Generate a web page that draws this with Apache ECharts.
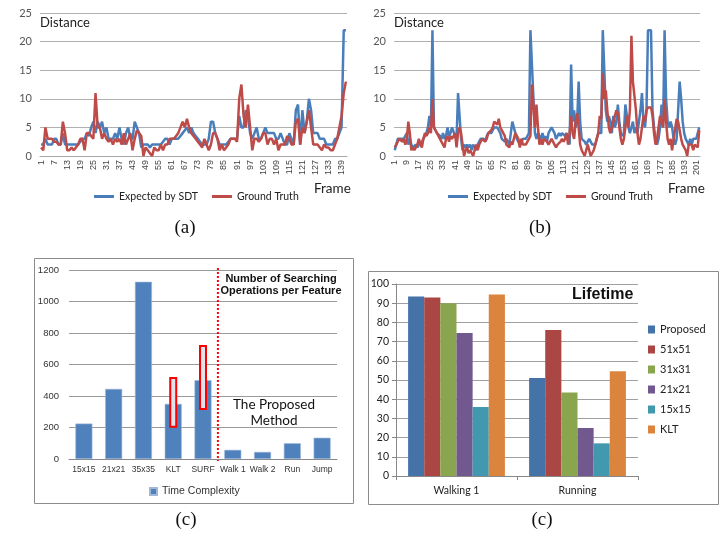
<!DOCTYPE html>
<html><head><meta charset="utf-8">
<script src="https://cdn.jsdelivr.net/npm/echarts@6/dist/echarts.min.js"></script>
<style>html,body{margin:0;padding:0;background:#fff}#c{width:724px;height:537px}</style>
</head><body><div id="c"></div>
<script>
// ---- Panel (a): distance per frame ----
const sdtA = [
 2,2,3,2,2,2, 3,3,2,2,4,2, 2,2,2,2,2,2, 2.5,3,3,4,3.5,5, 6,4,6,5,6,4,
 5,3,3,3,4,3, 5,3,2,4,5,3, 3,6,5,4,1.5,2, 2,2,1.5,2,2,2, 2,2,2.5,3,3,2,
 3,3,3,3,3.5,4, 4.5,5,4,5,4,3.5, 3,2.5,2,2,2,3, 6,6,4,3,2,2, 2,2,2.5,3,3,3,
 3,7,5,5,8,7, 4,3,4,5,3,3, 4,5,4,4,4,4, 3,3,4,3,2,2, 4,3,2,8,9,2,
 8,4,6,10,8,4, 4,4,3,3,3,2, 2,2,2,3,3,4, 5,22,22
];
const gtA = [
 1.5,1,5,3,3,3, 2.5,2.5,2,2,6,4, 1,1,1.5,1,1.5,2, 3,3,1,4,4,3.5, 3,11,5,5,3,4,
 3,2.5,3,2,3,2.5, 3,2,4,2,3,4, 1,3,4.5,4,3.5,0, 1.5,1,0.5,0,1.5,1, 1,2,1,2,2,3,
 3,3,3.5,4,5,6, 5,6.5,5,4,3.5,3, 2.5,2,1.5,3,2,1, 2,4,4,3,1,2, 1,1.5,2,3,3,3,
 2.5,10,12.5,7,5,9, 5,1,3,3,2.5,3, 4,4,2,3,3,2, 3,1,2,2,2,3.5, 3,2,2,6,6.5,2,
 5,4,6,8,5,2, 2,2,1.5,1,2,1.5, 1.5,1,1,2,3,5, 7,11,13
];
// ---- Panel (b) ----
const sdtB = [
 1,2,3,3,3,3,3,3, 4,2,3,2,1.5,1.5,2,1.5, 2,2,2.5,3,3,4,5,7, 5,22,5,4.5,4,4,3.5,3,
 4,3,3.5,5,3.5,4,5,5, 3.5,3,11,7,3,1,2,1.5, 2,1.5,2,1,2,1.5,1,2, 2.5,3,3,3,2.5,3.5,4,4,
 4,4.5,5,5,5,4.5,4,3, 3,2.5,3,2.5,2,2,6,6, 4,3,3,2,2,3,3,3, 3.5,4,22,22,10,4,3,4,
 4,3,4,3,3.5,2.5,4,4, 5,5,4,3,3.5,4,3.5,4, 4,3.5,4,3,2,16,6,8, 5,6,13,6,3,3,2.5,2,
 2.5,3,3,2,2,2,3,4, 4,4,22,22,8,6,7,6, 4,7,5,6,9,6,4,3.5, 4,9,7,5,4,5,6,4,
 5,4,6,8,11,6,5,8, 22,22,22,8,5,3,2,3, 5,9,5,22,10,6,5,6, 5,3,2,3,8,13,10,6,
 4,3,3,2,3,2,3,3, 3,3,5
];
const gtB = [
 1.5,2,2.5,3,3,2.5,3,2, 3,6,4,1,1.5,1,1.5,2, 3,2,1.5,3,4,3.5,4,5, 4,10,5,4.5,4,4,3,3,
 2,1.5,3,3.5,2.5,3.5,3,3.5, 4,1.5,4,5,4,2,0,1, 1.5,0.5,1,1,0,1,2,1, 2,2.5,3,3,2.5,3,4,4,
 4.5,5,6,6,5.5,6.5,5,5, 4,3.5,2,2,1.5,2.5,2,3, 4,4,3,1.5,3,2,2,2, 2.5,3,3.5,12.5,9,5,9,5,
 2,3,2,3,3,2.5,2,2, 3,2.5,2,1.5,2,2,2.5,3, 2.5,3,4,2,4,7,4,3, 6,7.5,5,2,1,1,0,1,
 2,1,0,0,1,2,3,4, 7,6.5,14.5,10,11.5,8,5,4, 5,6,7,8,7.5,5,3,2, 3,5,7,5,8,21,13,13,
 8,4,2,3,5,7,6,8, 8.5,8.5,8.5,7,4,2,3,5, 7,6,5,10,6,3,2,3, 1,3,3,6.5,6,6,3,2,
 2,1,0,2,2,2,1,2, 2,1.5,4.5
];
// ---- Panel (c) left: time complexity ----
const tcCats = ['15x15','21x21','35x35','KLT','SURF','Walk 1','Walk 2','Run','Jump'];
const tcVals = [225, 445, 1125, 350, 500, 58, 45, 100, 135];
const rangeCats = ['KLT','SURF'];
const rangeLow = [205, 317];
const rangeHigh = [515, 717];
const dividerBetween = ['SURF','Walk 1'];
// ---- Panel (c) right: lifetime ----
const ltCats = ['Walking 1','Running'];
const ltNames = ['Proposed','51x51','31x31','21x21','15x15','KLT'];
const ltProposed = [93.5, 51];
const lt51 = [93, 76];
const lt31 = [90, 43.5];
const lt21 = [74.5, 25];
const lt15 = [36, 17];
const ltKLT = [94.5, 54.5];
const ltColors = ['#4572a7','#aa4643','#89a54e','#71588f','#4198af','#db843d'];

const framesA = sdtA.map((_, i) => String(i + 1));
const framesB = sdtB.map((_, i) => String(i + 1));

const BLUE = '#4a7ebb', RED = '#be4b48';
const lineFont = 'Lato';

function lineX(idx, data, interval) {
  return {gridIndex: idx, type: 'category', data: data, boundaryGap: true,
    axisLine: {lineStyle: {color: '#a6a6a6'}}, axisTick: {show: false},
    axisLabel: {rotate: 90, interval: interval, fontSize: 9, color: '#444', margin: 4, fontFamily: 'Liberation Sans'}};
}
function lineY(idx) {
  return {gridIndex: idx, type: 'value', min: 0, max: 25, interval: 5,
    axisLine: {show: false}, axisTick: {show: false},
    splitLine: {lineStyle: {color: '#b0b0b0', width: 1}},
    axisLabel: {fontSize: 11, color: '#555', margin: 8}};
}

const chart = echarts.init(document.getElementById('c'));
const option = {
  animation: false,
  textStyle: {fontFamily: lineFont},
  grid: [
    {left: 40, top: 13, width: 307, height: 143},
    {left: 394, top: 13, width: 306, height: 143},
    {left: 69, top: 270, width: 268, height: 189},
    {left: 396, top: 284, width: 242, height: 192}
  ],
  xAxis: [
    lineX(0, framesA, 5),
    lineX(1, framesB, 7),
    {gridIndex: 2, type: 'category', data: tcCats,
      axisLine: {lineStyle: {color: '#888'}}, axisTick: {show: false},
      axisLabel: {interval: 0, fontSize: 8.5, color: '#333', margin: 6, fontFamily: 'Liberation Sans'}},
    {gridIndex: 3, type: 'category', data: ltCats,
      axisLine: {lineStyle: {color: '#888'}}, axisTick: {show: true, length: 4, lineStyle: {color: '#888'}},
      axisLabel: {fontSize: 10.5, color: '#222', margin: 9}}
  ],
  yAxis: [
    lineY(0), lineY(1),
    {gridIndex: 2, type: 'value', min: 0, max: 1200, interval: 200,
      axisLine: {show: false}, axisTick: {show: false},
      splitLine: {lineStyle: {color: '#9a9a9a'}},
      axisLabel: {fontSize: 9.5, color: '#333', margin: 10, fontFamily: 'Liberation Sans', formatter: v => String(v)}},
    {gridIndex: 3, type: 'value', min: 0, max: 100, interval: 10,
      axisLine: {show: true, lineStyle: {color: '#888'}}, axisTick: {show: true, length: 4, lineStyle: {color: '#888'}},
      splitLine: {lineStyle: {color: '#a0a0a0'}},
      axisLabel: {fontSize: 10.5, color: '#222', margin: 7}}
  ],
  legend: [
    {left: 89, top: 186, data: ['Expected by SDT','Ground Truth'], icon: 'rect', itemWidth: 20, itemHeight: 3, itemGap: 14,
      textStyle: {fontSize: 10.5, color: '#222', fontFamily: lineFont}},
    {left: 443, top: 186, data: ['Expected by SDT','Ground Truth'], icon: 'rect', itemWidth: 20, itemHeight: 3, itemGap: 14,
      textStyle: {fontSize: 10.5, color: '#222', fontFamily: lineFont}},
    {left: 144, top: 481, data: ['Time Complexity'], icon: 'rect', itemWidth: 7, itemHeight: 7,
      textStyle: {fontSize: 10.5, color: '#333', fontFamily: 'Liberation Sans'}},
    {left: 643, top: 319, orient: 'vertical', data: ltNames, icon: 'rect', itemWidth: 7, itemHeight: 8, itemGap: 9,
      textStyle: {fontSize: 11, color: '#222', fontFamily: lineFont}}
  ],
  series: [
    {name: 'Expected by SDT', type: 'line', xAxisIndex: 0, yAxisIndex: 0, data: sdtA, symbol: 'none',
      lineStyle: {width: 2.5, color: BLUE}, itemStyle: {color: BLUE}},
    {name: 'Ground Truth', type: 'line', xAxisIndex: 0, yAxisIndex: 0, data: gtA, symbol: 'none',
      lineStyle: {width: 2.5, color: RED}, itemStyle: {color: RED}},
    {name: 'Expected by SDT', type: 'line', xAxisIndex: 1, yAxisIndex: 1, data: sdtB, symbol: 'none',
      lineStyle: {width: 2.5, color: BLUE}, itemStyle: {color: BLUE}},
    {name: 'Ground Truth', type: 'line', xAxisIndex: 1, yAxisIndex: 1, data: gtB, symbol: 'none',
      lineStyle: {width: 2.5, color: RED}, itemStyle: {color: RED}},
    {name: 'Time Complexity', type: 'bar', xAxisIndex: 2, yAxisIndex: 2, data: tcVals, barWidth: 17,
      itemStyle: {color: '#4f81bd', borderColor: '#9fb8d9', borderWidth: 0.6}},
    {name: 'ranges', type: 'custom', xAxisIndex: 2, yAxisIndex: 2, z: 5,
      data: rangeCats.map((c, i) => [tcCats.indexOf(c), rangeLow[i], rangeHigh[i]]),
      renderItem: function (params, api) {
        const x = api.value(0);
        const pTop = api.coord([x, api.value(2)]);
        const pBot = api.coord([x, api.value(1)]);
        return {type: 'rect', shape: {x: pTop[0] - 3, y: pTop[1], width: 6, height: pBot[1] - pTop[1]},
          style: {fill: '#dde2ec', stroke: '#ff0000', lineWidth: 2}};
      }},
    {name: 'divider', type: 'custom', xAxisIndex: 2, yAxisIndex: 2, z: 5,
      data: [[tcCats.indexOf(dividerBetween[0]), tcCats.indexOf(dividerBetween[1])]],
      renderItem: function (params, api) {
        const a = api.coord([api.value(0), 0]);
        const b = api.coord([api.value(1), 0]);
        const t = api.coord([api.value(0), 1200]);
        const xm = (a[0] + b[0]) / 2;
        return {type: 'line', shape: {x1: xm, y1: t[1] - 2, x2: xm, y2: a[1] + 2},
          style: {stroke: '#ff0000', lineWidth: 2, lineDash: [2, 2]}};
      }},
    ...[ltProposed, lt51, lt31, lt21, lt15, ltKLT].map((d, i) => ({
      name: ltNames[i], type: 'bar', xAxisIndex: 3, yAxisIndex: 3, data: d,
      barGap: '0%', barCategoryGap: '20%', itemStyle: {color: ltColors[i]}
    }))
  ],
  graphic: [
    {type: 'rect', shape: {x: 34.5, y: 258.5, width: 319, height: 245}, style: {fill: 'none', stroke: '#8c8c8c', lineWidth: 1}, silent: true},
    {type: 'rect', shape: {x: 368.5, y: 271.5, width: 350, height: 233}, style: {fill: 'none', stroke: '#8c8c8c', lineWidth: 1}, silent: true},
    {type: 'text', left: 40, top: 16, style: {text: 'Distance', fontSize: 13, fill: '#222', fontFamily: lineFont}},
    {type: 'text', left: 394, top: 16, style: {text: 'Distance', fontSize: 13, fill: '#222', fontFamily: lineFont}},
    {type: 'text', left: 314, top: 182, style: {text: 'Frame', fontSize: 13.5, fill: '#222', fontFamily: lineFont}},
    {type: 'text', left: 668, top: 182, style: {text: 'Frame', fontSize: 13.5, fill: '#222', fontFamily: lineFont}},
    {type: 'text', x: 281, y: 273, style: {text: 'Number of Searching\nOperations per Feature', fontSize: 11, fontWeight: 'bold', lineHeight: 12, fill: '#111', align: 'center', fontFamily: 'Liberation Sans'}},
    {type: 'text', x: 274, y: 397, style: {text: 'The Proposed\nMethod', fontSize: 13.5, lineHeight: 16, fill: '#111', align: 'center', fontFamily: lineFont}},
    {type: 'text', x: 572, y: 287, style: {text: 'Lifetime', fontSize: 16, fontWeight: 'bold', fill: '#111', fontFamily: 'Liberation Sans'}},
    {type: 'text', x: 185, y: 219, style: {text: '(a)', fontSize: 19, fill: '#111', align: 'center', fontFamily: 'Liberation Serif'}},
    {type: 'text', x: 540, y: 219, style: {text: '(b)', fontSize: 19, fill: '#111', align: 'center', fontFamily: 'Liberation Serif'}},
    {type: 'text', x: 186, y: 511, style: {text: '(c)', fontSize: 19, fill: '#111', align: 'center', fontFamily: 'Liberation Serif'}},
    {type: 'text', x: 542, y: 511, style: {text: '(c)', fontSize: 19, fill: '#111', align: 'center', fontFamily: 'Liberation Serif'}}
  ]
};
chart.setOption(option);
</script>
</body></html>
